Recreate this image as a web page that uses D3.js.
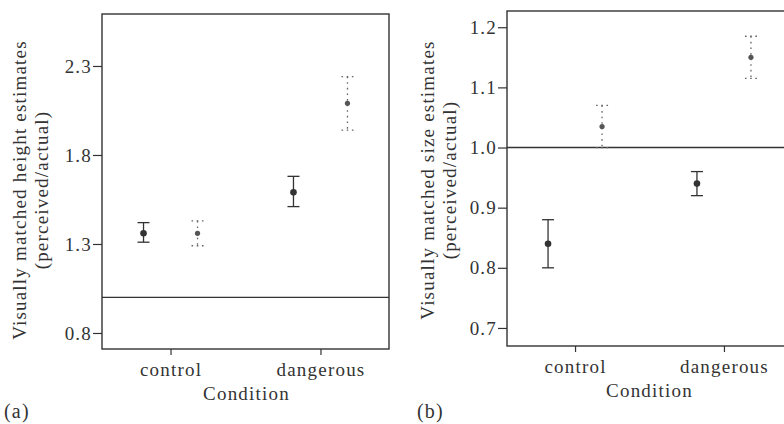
<!DOCTYPE html>
<html>
<head>
<meta charset="utf-8">
<script src="https://cdn.jsdelivr.net/npm/d3@7"></script>
<style>
  body { margin: 0; background: #fff; }
  svg { display: block; font-family: "Liberation Serif", "Times New Roman", serif; }
  text { fill: #333; letter-spacing: 1.2px; }
</style>
</head>
<body>
<svg id="chart" width="784" height="424"></svg>
<script>
const conditions = ["control", "dangerous"];
const seriesNames = ["solid", "dotted"];

const heightTicks = [0.8, 1.3, 1.8, 2.3];
const sizeTicks = [0.7, 0.8, 0.9, 1.0, 1.1, 1.2];

// panel (a) - height estimates
const heightSolidMean = [1.36, 1.59];
const heightSolidLow = [1.31, 1.51];
const heightSolidHigh = [1.42, 1.68];
const heightDottedMean = [1.36, 2.09];
const heightDottedLow = [1.29, 1.94];
const heightDottedHigh = [1.43, 2.24];

// panel (b) - size estimates
const sizeSolidMean = [0.84, 0.94];
const sizeSolidLow = [0.80, 0.92];
const sizeSolidHigh = [0.88, 0.96];
const sizeDottedMean = [1.035, 1.15];
const sizeDottedLow = [1.0, 1.115];
const sizeDottedHigh = [1.07, 1.185];

const refValue = 1.0;

const svg = d3.select("#chart");
const ink = "#333";

function drawPanel(p) {
  const g = svg.append("g");

  const x = d3.scalePoint()
    .domain(conditions)
    .range([p.left, p.right])
    .padding(0.457);

  const offset = d3.scalePoint()
    .domain(seriesNames)
    .range([-27, 27]);

  const y = d3.scaleLinear()
    .domain(p.domain)
    .range([p.bottom, p.top]);

  // frame
  g.append("rect")
    .attr("x", p.left)
    .attr("y", p.top)
    .attr("width", p.right - p.left)
    .attr("height", p.bottom - p.top)
    .attr("fill", "none")
    .attr("stroke", ink)
    .attr("stroke-width", 1.4);

  // reference line at 1.0
  g.append("line")
    .attr("x1", p.left)
    .attr("x2", p.right)
    .attr("y1", y(refValue))
    .attr("y2", y(refValue))
    .attr("stroke", ink)
    .attr("stroke-width", 1.4);

  // y axis
  const yAxis = g.append("g")
    .attr("transform", `translate(${p.left},0)`)
    .call(d3.axisLeft(y).tickValues(p.ticks).tickFormat(d3.format(".1f")).tickSize(9).tickPadding(1));
  yAxis.select(".domain").remove();
  yAxis.selectAll("line").attr("stroke", ink).attr("stroke-width", 1.2);
  yAxis.selectAll("text")
    .attr("fill", ink)
    .style("font-size", "19px")
    .style("font-family", "Liberation Serif, serif");

  // x axis
  const xAxis = g.append("g")
    .attr("transform", `translate(0,${p.bottom})`)
    .call(d3.axisBottom(x).tickSize(6).tickPadding(0));
  xAxis.select(".domain").remove();
  xAxis.selectAll("line").attr("stroke", ink).attr("stroke-width", 1.2);
  xAxis.selectAll("text")
    .attr("y", 27)
    .attr("dy", 0)
    .attr("fill", ink)
    .style("font-size", "19px")
    .style("font-family", "Liberation Serif, serif");

  // axis titles
  g.append("text")
    .attr("x", (p.left + p.right) / 2 + p.condShift)
    .attr("y", p.bottom + 51)
    .attr("text-anchor", "middle")
    .style("font-size", "19px")
    .text("Condition");

  const ty = g.append("g")
    .attr("transform", `translate(${p.titleX},${p.titleY}) rotate(-90)`);
  ty.append("text")
    .attr("text-anchor", "middle")
    .style("font-size", "19px")
    .text(p.title);
  ty.append("text")
    .attr("y", 22)
    .attr("text-anchor", "middle")
    .style("font-size", "19px")
    .text("(perceived/actual)");

  g.append("text")
    .attr("x", p.tagX)
    .attr("y", 418)
    .style("font-size", "20px")
    .text(p.tag);

  // error bars
  const bars = [
    { name: "solid", mean: p.solidMean, lo: p.solidLow, hi: p.solidHigh },
    { name: "dotted", mean: p.dottedMean, lo: p.dottedLow, hi: p.dottedHigh }
  ];

  bars.forEach(s => {
    const dotted = s.name === "dotted";
    const rows = conditions.map((c, i) => ({ c, mean: s.mean[i], lo: s.lo[i], hi: s.hi[i] }));
    const cx = d => x(d.c) + offset(s.name);
    const stroke = dotted ? "#666" : ink;
    const dash = dotted ? "1.6,4" : null;

    const eg = g.append("g");
    eg.selectAll(".stem").data(rows).enter().append("line")
      .attr("x1", cx).attr("x2", cx)
      .attr("y1", d => y(d.hi)).attr("y2", d => y(d.lo))
      .attr("stroke", stroke)
      .attr("stroke-width", 1.3)
      .attr("stroke-dasharray", dash);

    ["hi", "lo"].forEach(k => {
      eg.selectAll(".cap-" + k).data(rows).enter().append("line")
        .attr("x1", d => cx(d) - 6).attr("x2", d => cx(d) + 6)
        .attr("y1", d => y(d[k])).attr("y2", d => y(d[k]))
        .attr("stroke", stroke)
        .attr("stroke-width", 1.3)
        .attr("stroke-dasharray", dotted ? "1.6,3.6" : null);
    });

    eg.selectAll("circle").data(rows).enter().append("circle")
      .attr("cx", cx)
      .attr("cy", d => y(d.mean))
      .attr("r", dotted ? 2.6 : 3.3)
      .attr("fill", dotted ? "#555" : ink);
  });
}

drawPanel({
  left: 102, right: 389, top: 14, bottom: 349,
  domain: [0.71, 2.592],
  ticks: heightTicks,
  title: "Visually matched height estimates",
  titleX: 26, titleY: 190,
  condShift: 1,
  tag: "(a)", tagX: 4,
  solidMean: heightSolidMean, solidLow: heightSolidLow, solidHigh: heightSolidHigh,
  dottedMean: heightDottedMean, dottedLow: heightDottedLow, dottedHigh: heightDottedHigh
});

drawPanel({
  left: 507, right: 792, top: 11, bottom: 346,
  domain: [0.670, 1.227],
  ticks: sizeTicks,
  title: "Visually matched size estimates",
  titleX: 434, titleY: 180,
  condShift: 0,
  tag: "(b)", tagX: 417,
  solidMean: sizeSolidMean, solidLow: sizeSolidLow, solidHigh: sizeSolidHigh,
  dottedMean: sizeDottedMean, dottedLow: sizeDottedLow, dottedHigh: sizeDottedHigh
});
</script>
</body>
</html>
